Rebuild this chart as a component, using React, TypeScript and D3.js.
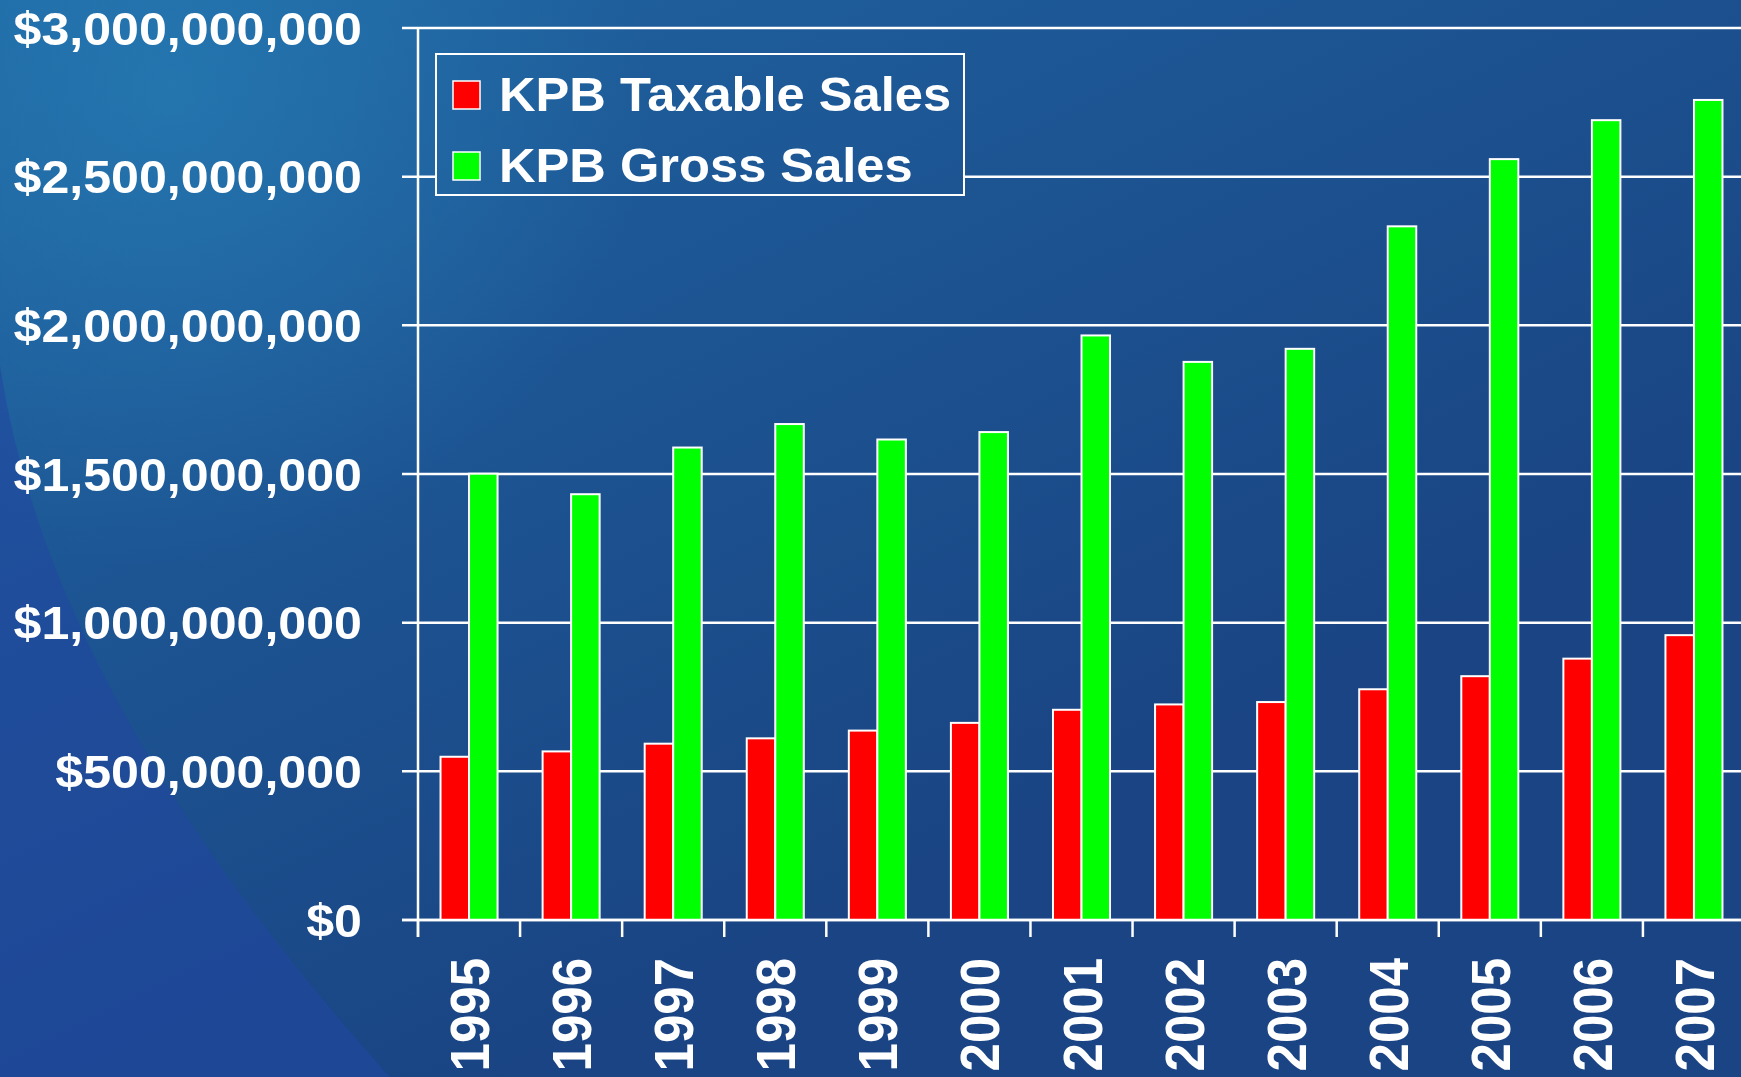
import React from "react";
import * as d3 from "d3";

const years = ["1995", "1996", "1997", "1998", "1999", "2000", "2001", "2002", "2003", "2004", "2005", "2006", "2007"];
// values in millions of dollars
const taxableSales = [549, 567, 593, 611, 637, 663, 707, 725, 733, 776, 820, 879, 958];
const grossSales = [1501, 1432, 1589, 1668, 1616, 1641, 1966, 1877, 1921, 2333, 2559, 2690, 2758];
const seriesNames = ["KPB Taxable Sales", "KPB Gross Sales"];
const seriesColors = ["#ff0000", "#00ff00"];
const yTicks = [0, 500, 1000, 1500, 2000, 2500, 3000];

const W = 1741;
const H = 1077;
const FONT = "'Liberation Sans', Arial, Helvetica, sans-serif";

const left = 418;
const right = 1745;
const top = 28;
const bottom = 920;

const legendBox = { x: 436, y: 54, w: 528, h: 141 };

export default function App() {
  const x = d3.scaleBand().domain(years).range([left, right]).padding(0);
  const inner = d3.scaleBand().domain(seriesNames).range([0, x.bandwidth()]).paddingInner(0).paddingOuter(0.79);
  const y = d3.scaleLinear().domain([0, 3000]).range([bottom, top]);
  const fmt = d3.format("$,");

  const rows = years.map((yr, i) => ({ year: yr, values: [taxableSales[i], grossSales[i]] }));

  return (
    <svg width={W} height={H} style={{ position: "fixed", left: 0, top: 0, display: "block" }}>
      <defs>
        <linearGradient id="bg" gradientUnits="userSpaceOnUse" x1="0" y1="0" x2={W * 0.3} y2={H}>
          <stop offset="0" stopColor="#1f66a2" />
          <stop offset="0.45" stopColor="#1d5694" />
          <stop offset="1" stopColor="#1a4483" />
        </linearGradient>
        <radialGradient id="glow" gradientUnits="userSpaceOnUse" cx="170" cy="90" r="480">
          <stop offset="0" stopColor="#2a88c0" stopOpacity="0.5" />
          <stop offset="1" stopColor="#2a88c0" stopOpacity="0" />
        </radialGradient>
        <mask id="gridMask">
          <rect x="0" y="0" width={W} height={H} fill="white" />
          <rect x={legendBox.x} y={legendBox.y} width={legendBox.w} height={legendBox.h} fill="black" />
        </mask>
      </defs>

      {/* slide background */}
      <rect x="0" y="0" width={W} height={H} fill="url(#bg)" />
      <rect x="0" y="0" width={W} height={H} fill="url(#glow)" />
      <path d="M0,366 Q50,700 390,1077 L0,1077 Z" fill="#2147a0" opacity="0.6" />

      {/* gridlines + y ticks */}
      <g mask="url(#gridMask)">
        {yTicks.map((t) => (
          <line key={t} x1={left - 16} x2={W} y1={y(t)} y2={y(t)} stroke="#fff" strokeWidth={2.5} />
        ))}
      </g>

      {/* bars */}
      {rows.map((r) => (
        <g key={r.year} transform={`translate(${x(r.year)},0)`}>
          {r.values.map((v, j) => (
            <rect
              key={j}
              x={inner(seriesNames[j])}
              y={y(v)}
              width={inner.bandwidth()}
              height={y(0) - y(v)}
              fill={seriesColors[j]}
              stroke="#fff"
              strokeWidth={2}
            />
          ))}
        </g>
      ))}

      {/* axes */}
      <line x1={left} x2={left} y1={top} y2={bottom + 17} stroke="#fff" strokeWidth={2.5} />
      <line x1={left - 16} x2={W} y1={bottom} y2={bottom} stroke="#fff" strokeWidth={2.5} />
      {years.map((yr) => (
        <line key={yr} x1={x(yr)} x2={x(yr)} y1={bottom} y2={bottom + 17} stroke="#fff" strokeWidth={2.5} />
      ))}

      {/* y labels */}
      {yTicks.map((t) => (
        <text
          key={t}
          transform={`translate(${left - 56},${y(t)}) scale(1.09,1)`}
          dy="0.36em"
          textAnchor="end"
          fill="#fff"
          fontFamily={FONT}
          fontWeight="bold"
          fontSize={46}
        >
          {fmt(t * 1e6)}
        </text>
      ))}

      {/* x labels */}
      {years.map((yr) => (
        <text
          key={yr}
          transform={`translate(${(x(yr) as number) + x.bandwidth() / 2},${bottom + 38}) scale(1.09,1) rotate(-90)`}
          dy="0.36em"
          textAnchor="end"
          fill="#fff"
          fontFamily={FONT}
          fontWeight="bold"
          fontSize={51}
        >
          {yr}
        </text>
      ))}

      {/* legend */}
      <rect
        x={legendBox.x}
        y={legendBox.y}
        width={legendBox.w}
        height={legendBox.h}
        fill="none"
        stroke="#fff"
        strokeWidth={2}
      />
      {seriesNames.map((name, i) => (
        <g key={name} transform={`translate(${legendBox.x + 17},${legendBox.y + 27 + i * 71})`}>
          <rect x={0} y={0} width={27} height={28} fill={seriesColors[i]} stroke="#fff" strokeWidth={1.5} />
          <text
            transform="translate(46,30) scale(1.055,1)"
            fill="#fff"
            fontFamily={FONT}
            fontWeight="bold"
            fontSize={48}
          >
            {name}
          </text>
        </g>
      ))}
    </svg>
  );
}
